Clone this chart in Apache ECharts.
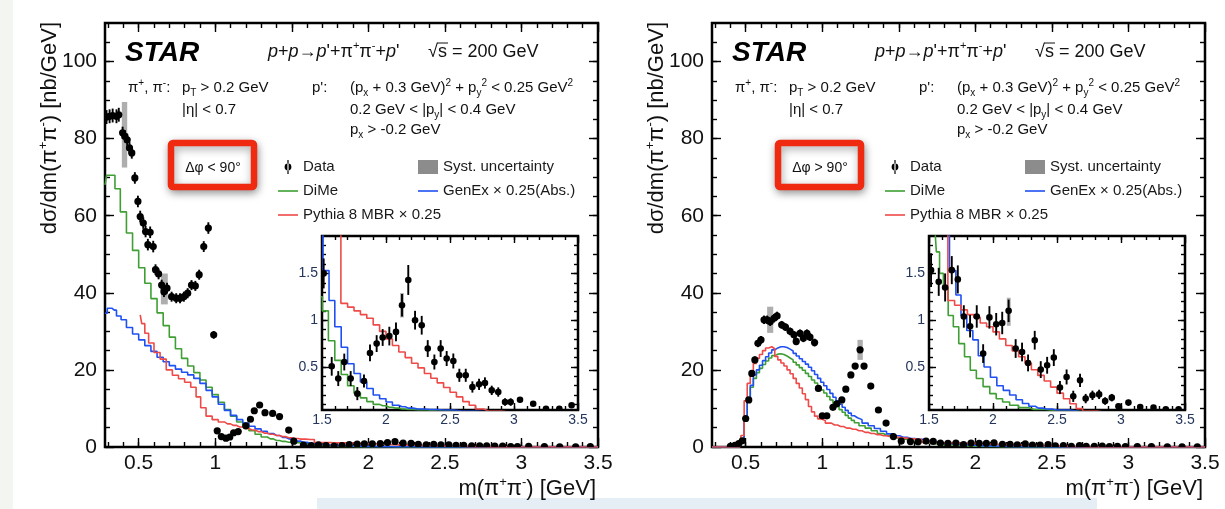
<!DOCTYPE html>
<html>
<head>
<meta charset="utf-8">
<script src="https://cdn.jsdelivr.net/npm/echarts@6/dist/echarts.min.js"></script>
<style>
html,body{margin:0;padding:0;background:#fff;}
#chart{width:1225px;height:509px;}
</style>
</head>
<body>
<div id="chart"></div>
<script>
// ---------------- DATA ----------------
// Δφ < 90° : data points [m, dσ/dm, stat. error]
const leftLow = [
[0.29,85.6,1.8],[0.31,85.8,1.8],[0.33,86.0,1.8],[0.355,85.8,1.8],[0.37,86.2,1.8],
[0.395,81.5,1.6],[0.41,80.6,1.6],[0.425,79.7,1.6],[0.44,77.6,1.5],[0.455,76.3,1.5],
[0.475,69.8,1.5],[0.495,63.7,1.5],[0.51,59.8,1.5],[0.53,58.1,1.5],[0.545,55.9,1.5],
[0.56,52.5,1.5],[0.575,55.7,1.5],[0.595,52.0,1.5],[0.61,46.0,1.4],[0.63,44.9,1.4],
[0.65,42.0,1.4],[0.665,40.3,1.4],[0.685,41.2,1.4],[0.715,39.0,1.3],[0.745,38.6,1.3],
[0.77,38.6,1.3],[0.795,39.0,1.3],[0.82,39.9,1.3],[0.845,42.0,1.3],[0.87,41.8,1.3],
[0.895,44.7,1.3],[0.925,52.0,1.4],[0.955,56.8,1.5],[0.99,29.1,1.0],[1.013,4.2,0.6],
[1.04,2.7,0.5],[1.07,2.3,0.5],[1.095,2.6,0.5],[1.12,3.7,0.5],[1.15,4.0,0.5],
[1.2,5.5,0.5],[1.23,7.2,0.5],[1.255,9.4,0.6],[1.29,10.9,0.6],[1.325,8.9,0.5],
[1.375,8.7,0.5],[1.42,7.9,0.5],[1.48,4.4,0.4]
];
const leftHigh = [
[1.513,1.5,0.16],[1.576,0.507,0.1],[1.627,0.376,0.08],[1.674,0.553,0.09],[1.724,0.376,0.08],
[1.776,0.215,0.07],[1.828,0.35,0.07],[1.875,0.65,0.09],[1.927,0.75,0.09],[1.974,0.815,0.09],
[2.026,0.83,0.1],[2.078,0.875,0.1],[2.125,1.16,0.12],[2.174,1.43,0.16],[2.227,1.0,0.1],
[2.279,0.946,0.1],[2.326,0.697,0.09],[2.378,0.553,0.08],[2.427,0.697,0.09],[2.474,0.59,0.08],
[2.526,0.564,0.08],[2.573,0.411,0.07],[2.623,0.411,0.07],[2.675,0.286,0.06],[2.727,0.314,0.06],
[2.773,0.329,0.06],[2.826,0.25,0.05],[2.877,0.232,0.05],[2.93,0.125,0.04],[2.974,0.125,0.04],
[3.047,0.15,0.03],[3.15,0.107,0.02],[3.25,0.054,0.02],[3.354,0.054,0.02],[3.45,0.09,0.02]
];
// Δφ > 90°
const rightLow = [
[0.40,0.2,0.3],[0.43,0.4,0.3],[0.455,0.9,0.3],[0.478,1.6,0.4],[0.50,7.4,0.6],
[0.52,12.2,0.7],[0.54,19.1,0.8],[0.56,22.6,0.9],[0.58,26.9,1.0],[0.60,27.8,1.0],
[0.62,33.0,1.1],[0.64,33.0,1.1],[0.66,32.5,1.1],[0.685,33.4,1.1],[0.705,34.0,1.1],
[0.735,31.7,1.0],[0.76,31.1,1.0],[0.79,30.0,1.0],[0.815,29.1,1.0],[0.83,27.4,1.0],
[0.855,29.5,1.0],[0.877,28.2,1.0],[0.90,29.5,1.0],[0.92,28.5,1.0],[0.95,27.1,1.0],
[0.975,15.2,0.8],[1.0,8.1,0.6],[1.03,8.1,0.6],[1.07,10.3,0.6],[1.095,11.2,0.6],
[1.128,12.2,0.6],[1.154,15.0,0.7],[1.187,18.7,0.7],[1.215,21.0,0.8],[1.247,25.2,0.8],
[1.273,21.0,0.8],[1.317,15.8,0.7],[1.367,9.6,0.6],[1.417,6.2,0.5],[1.465,2.7,0.4]
];
const rightHigh = [
[1.516,1.535,0.18],[1.576,1.41,0.15],[1.626,1.35,0.15],[1.678,1.535,0.15],[1.725,1.436,0.15],
[1.772,1.04,0.12],[1.821,0.936,0.12],[1.873,1.04,0.12],[1.923,0.643,0.1],[1.972,1.03,0.12],
[2.025,0.957,0.12],[2.072,0.97,0.12],[2.122,1.1,0.12],[2.177,0.697,0.1],[2.227,0.66,0.1],
[2.274,0.543,0.09],[2.326,0.786,0.1],[2.373,0.472,0.09],[2.423,0.518,0.09],[2.475,0.6,0.09],
[2.523,0.28,0.07],[2.575,0.393,0.08],[2.627,0.186,0.06],[2.68,0.357,0.07],[2.724,0.162,0.05],
[2.777,0.197,0.05],[2.829,0.207,0.05],[2.876,0.136,0.04],[2.928,0.172,0.04],[2.98,0.079,0.03],
[3.058,0.119,0.03],[3.15,0.072,0.02],[3.254,0.065,0.02],[3.35,0.047,0.02],[3.45,0.047,0.02]
];
// systematic uncertainty boxes [m0, m1, low, high]
const leftSyst = [[0.39,0.425,72.5,89.5],[0.645,0.69,37,45],[2.11,2.14,1.03,1.29]];
const rightSyst = [[0.64,0.68,29.6,36.4],[1.23,1.265,22.6,27.8],[2.108,2.138,0.94,1.24]];

// model histograms [m, dσ/dm]
const leftDiMe = [[0.28,68],[0.30,70.5],[0.33,70.5],[0.36,67],[0.40,61],[0.44,55.5],[0.48,51],[0.52,46.5],[0.56,42.5],[0.60,38.5],[0.64,34.8],[0.68,31.5],[0.72,28.5],[0.76,25.5],[0.80,23],[0.84,21],[0.88,19.3],[0.92,17.4],[0.96,15.5],[1.00,13.6],[1.04,11.6],[1.08,9.7],[1.12,8.0],[1.16,6.5],[1.20,5.2],[1.24,4.2],[1.28,3.3],[1.32,2.6],[1.36,2.1],[1.40,1.7],[1.44,1.45],[1.48,1.25],[1.525,1.1],[1.575,0.78],[1.625,0.57],[1.675,0.42],[1.725,0.30],[1.775,0.22],[1.825,0.17],[1.875,0.13],[1.925,0.10],[1.975,0.085],[2.025,0.07],[2.075,0.06],[2.125,0.05],[2.175,0.045],[2.25,0.04],[2.4,0.03],[2.6,0.02],[2.8,0.01],[3.0,0.005],[3.5,0]];
const leftGenEx = [[0.28,34.7],[0.31,36],[0.34,35.5],[0.37,34],[0.40,33],[0.44,31],[0.48,29.3],[0.52,27.8],[0.56,26.3],[0.60,24.8],[0.64,23.3],[0.68,22.1],[0.72,21.1],[0.76,20.2],[0.80,19.4],[0.84,18.7],[0.88,17.8],[0.92,16.5],[0.96,14.7],[1.00,13.0],[1.04,11.1],[1.08,9.5],[1.12,8.2],[1.16,7.1],[1.20,6.2],[1.24,5.4],[1.28,4.7],[1.32,4.1],[1.36,3.5],[1.40,3.0],[1.44,2.5],[1.48,2.1],[1.535,1.53],[1.575,1.21],[1.625,0.93],[1.675,0.71],[1.725,0.535],[1.775,0.43],[1.825,0.34],[1.875,0.27],[1.925,0.20],[1.975,0.16],[2.025,0.125],[2.075,0.09],[2.125,0.075],[2.175,0.06],[2.25,0.05],[2.35,0.045],[2.45,0.04],[2.6,0.03],[2.8,0.02],[3.0,0.01],[3.5,0]];
const leftPythia = [[0.51,34.3],[0.53,32],[0.55,29.5],[0.58,27],[0.62,24.5],[0.66,22.8],[0.70,20],[0.74,18.6],[0.78,17.7],[0.82,16.8],[0.86,15.5],[0.89,13],[0.92,10.2],[0.96,8],[1.00,7.1],[1.04,6.5],[1.08,6.0],[1.12,5.6],[1.16,5.2],[1.20,4.8],[1.24,4.4],[1.28,4.0],[1.32,3.6],[1.36,3.3],[1.40,3.0],[1.44,2.7],[1.48,2.4],[1.52,2.2],[1.56,2.05],[1.62,1.95],[1.675,1.18],[1.725,1.14],[1.775,1.10],[1.825,1.06],[1.875,1.02],[1.925,0.95],[1.975,0.88],[2.025,0.80],[2.075,0.73],[2.125,0.66],[2.175,0.60],[2.225,0.54],[2.275,0.49],[2.325,0.43],[2.375,0.38],[2.425,0.33],[2.475,0.28],[2.525,0.23],[2.575,0.18],[2.625,0.13],[2.675,0.09],[2.725,0.05],[2.8,0.03],[3.0,0.01],[3.5,0]];
const rightDiMe = [[0.28,0],[0.46,0],[0.48,1.5],[0.50,7],[0.52,12.3],[0.54,15.5],[0.56,17.8],[0.58,19.3],[0.60,20.4],[0.62,21.4],[0.64,22.3],[0.66,23.1],[0.68,23.7],[0.70,24.1],[0.72,24.2],[0.74,24],[0.76,23.6],[0.78,23.1],[0.80,22.6],[0.82,22],[0.84,21.3],[0.86,20.6],[0.88,19.9],[0.90,19.1],[0.92,18.3],[0.94,17.4],[0.96,16.6],[0.98,15.7],[1.00,14.8],[1.02,14],[1.04,13.1],[1.06,12.2],[1.08,11.3],[1.10,10.5],[1.12,9.7],[1.14,9],[1.16,8.2],[1.18,7.5],[1.20,6.9],[1.22,6.3],[1.26,5.5],[1.30,4.9],[1.34,4.2],[1.38,3.5],[1.42,3.0],[1.46,2.5],[1.50,2.2],[1.545,2.0],[1.57,1.73],[1.595,1.5],[1.63,1.34],[1.67,1.05],[1.71,0.93],[1.755,0.75],[1.80,0.61],[1.845,0.465],[1.895,0.376],[1.95,0.29],[2.0,0.215],[2.05,0.16],[2.10,0.125],[2.16,0.09],[2.24,0.065],[2.32,0.045],[2.5,0.03],[2.8,0.01],[3.5,0]];
const rightGenEx = [[0.28,0],[0.46,0],[0.48,1.5],[0.50,7],[0.52,12.5],[0.54,16],[0.56,18.7],[0.58,20],[0.60,21.2],[0.62,22.4],[0.64,23.4],[0.66,24.4],[0.68,25.2],[0.70,25.7],[0.72,26],[0.74,26],[0.76,25.8],[0.78,25.4],[0.80,24.9],[0.82,24.3],[0.84,23.6],[0.86,22.9],[0.88,22.2],[0.90,21.5],[0.92,20.7],[0.94,19.8],[0.96,18.8],[0.98,17.8],[1.00,16.8],[1.02,15.9],[1.04,14.9],[1.06,13.9],[1.08,12.9],[1.10,12],[1.12,11.1],[1.14,10.3],[1.16,9.5],[1.18,8.8],[1.20,8.1],[1.22,7.6],[1.24,7.1],[1.28,6.2],[1.32,5.5],[1.36,4.8],[1.40,4.1],[1.44,3.4],[1.48,2.9],[1.53,2.5],[1.58,2.2],[1.63,2.0],[1.69,1.53],[1.73,1.27],[1.77,1.05],[1.82,0.89],[1.865,0.79],[1.905,0.62],[1.955,0.50],[2.005,0.39],[2.055,0.30],[2.105,0.25],[2.155,0.20],[2.205,0.15],[2.255,0.11],[2.305,0.08],[2.355,0.06],[2.42,0.05],[2.5,0.04],[2.7,0.02],[3.0,0.01],[3.5,0]];
const rightPythia = [[0.28,0],[0.46,0],[0.48,3],[0.50,12],[0.52,16.5],[0.54,19],[0.56,21.7],[0.58,23],[0.60,24],[0.62,25],[0.64,25.7],[0.66,26],[0.68,25.5],[0.70,23.5],[0.72,22.6],[0.74,21.8],[0.76,21],[0.78,20],[0.80,19],[0.82,17.8],[0.84,16.5],[0.86,15.3],[0.88,13.8],[0.90,12.3],[0.92,10.5],[0.94,9.1],[0.96,8],[0.98,7.3],[1.00,6.9],[1.04,6.2],[1.08,5.7],[1.12,5.3],[1.16,4.9],[1.20,4.6],[1.24,4.2],[1.28,3.8],[1.32,3.5],[1.36,3.2],[1.40,2.9],[1.44,2.7],[1.48,2.5],[1.53,2.3],[1.58,2.1],[1.62,2.0],[1.675,1.21],[1.725,1.16],[1.775,1.11],[1.825,1.06],[1.875,1.03],[1.925,0.97],[1.975,0.93],[2.025,0.875],[2.075,0.80],[2.125,0.73],[2.175,0.67],[2.225,0.61],[2.275,0.54],[2.325,0.47],[2.375,0.41],[2.425,0.35],[2.475,0.285],[2.525,0.22],[2.575,0.16],[2.625,0.107],[2.675,0.055],[2.725,0.03],[2.9,0.01],[3.5,0]];

// tick labels
const mainXTicks = [0.5,1,1.5,2,2.5,3,3.5];
const mainYTicks = [0,20,40,60,80,100];
const insetXTicks = [1.5,2,2.5,3,3.5];
const insetYTicks = [0.5,1,1.5];
const mainXRange = [0.28,3.5], mainYRange = [0,110];
const insetXRange = [1.5,3.5], insetYRange = [0.04,1.9];

const names = {data:'Data', syst:'Syst. uncertainty', dime:'DiMe', genex:'GenEx × 0.25(Abs.)', pythia:'Pythia 8 MBR × 0.25'};
const colors = {dime:'#3f9f35', genex:'#1f50f2', pythia:'#ee4a48', syst:'#8c8c8c'};

// ---------------- CHART ----------------
const FONT = '"Liberation Sans", Arial, Helvetica, sans-serif';
const OFF = 607;

function steps(a, b, s) { const r = []; for (let k = Math.ceil(a / s - 1e-9); k * s <= b + 1e-9; k++) r.push(+(k * s).toFixed(3)); return r; }

const grids = [
  {left:105, top:23, width:493, height:424},
  {left:105+OFF, top:23, width:493, height:424},
  {left:322, top:236, width:256, height:174},
  {left:322+OFF, top:236, width:256, height:174}
].map(g => Object.assign(g, {show:true, borderColor:'#000', borderWidth:2.5, backgroundColor:'rgba(0,0,0,0)'}));

const xAxis = [], yAxis = [];
function addAxes(gi, xr, yr, xMaj, xMin, yMaj, yMin, lab) {
  const base = {gridIndex:gi, type:'value', splitLine:{show:false}, axisLine:{show:false, onZero:false}};
  const tk = (vals, len) => ({show:true, inside:true, length:len, customValues:vals, lineStyle:{color:'#000', width:1.4}});
  const lbl = (vals, margin) => ({show:true, customValues:vals, fontSize:lab.fs, color:lab.color, fontFamily:FONT, margin:margin, formatter:v => String(+v.toFixed(2))});
  xAxis.push(Object.assign({}, base, {min:xr[0], max:xr[1], position:'bottom', axisTick:tk(xMaj, lab.maj), axisLabel:lbl(xMaj, lab.xm)}));
  xAxis.push(Object.assign({}, base, {min:xr[0], max:xr[1], position:'bottom', axisTick:tk(xMin, lab.min), axisLabel:{show:false}}));
  xAxis.push(Object.assign({}, base, {min:xr[0], max:xr[1], position:'top', axisTick:tk(xMaj, lab.maj), axisLabel:{show:false}}));
  xAxis.push(Object.assign({}, base, {min:xr[0], max:xr[1], position:'top', axisTick:tk(xMin, lab.min), axisLabel:{show:false}}));
  yAxis.push(Object.assign({}, base, {min:yr[0], max:yr[1], position:'left', axisTick:tk(yMaj, lab.maj), axisLabel:lbl(yMaj, lab.ym)}));
  yAxis.push(Object.assign({}, base, {min:yr[0], max:yr[1], position:'left', axisTick:tk(yMin, lab.min), axisLabel:{show:false}}));
  yAxis.push(Object.assign({}, base, {min:yr[0], max:yr[1], position:'right', axisTick:tk(yMaj, lab.maj), axisLabel:{show:false}}));
  yAxis.push(Object.assign({}, base, {min:yr[0], max:yr[1], position:'right', axisTick:tk(yMin, lab.min), axisLabel:{show:false}}));
}
const mainLab = {fs:21, color:'#111', xm:6, ym:8, maj:9, min:5};
const insetLab = {fs:14, color:'#24365c', xm:3, ym:4, maj:7, min:4};
const mXMin = steps(0.3, 3.4, 0.1), mYMin = steps(5, 105, 5);
const iXMin = steps(1.6, 3.4, 0.1), iYMin = steps(0.1, 1.8, 0.1);
addAxes(0, mainXRange, mainYRange, mainXTicks, mXMin, mainYTicks, mYMin, mainLab);
addAxes(1, mainXRange, mainYRange, mainXTicks, mXMin, mainYTicks, mYMin, mainLab);
addAxes(2, insetXRange, insetYRange, insetXTicks, iXMin, insetYTicks, iYMin, insetLab);
addAxes(3, insetXRange, insetYRange, insetXTicks, iXMin, insetYTicks, iYMin, insetLab);

function dataSeries(data, gi, r) {
  return {name:names.data, type:'custom', xAxisIndex:gi*4, yAxisIndex:gi*4, data:data, clip:true, z:5, silent:true,
    itemStyle:{color:'#000'}, encode:{x:0, y:1},
    renderItem:function(params, api){
      const x = api.value(0), y = api.value(1), e = api.value(2);
      const p = api.coord([x, y]), lo = api.coord([x, y - e]), hi = api.coord([x, y + e]);
      return {type:'group', children:[
        {type:'line', shape:{x1:p[0], y1:lo[1], x2:p[0], y2:hi[1]}, style:{stroke:'#000', lineWidth:1.9}},
        {type:'circle', shape:{cx:p[0], cy:p[1], r:r}, style:{fill:'#000'}}
      ]};
    }};
}
function systSeries(data, gi) {
  return {name:names.syst, type:'custom', xAxisIndex:gi*4, yAxisIndex:gi*4, data:data, clip:true, z:3, silent:true,
    itemStyle:{color:colors.syst}, encode:{x:[0,1], y:[2,3]},
    renderItem:function(params, api){
      const a = api.coord([api.value(0), api.value(3)]), b = api.coord([api.value(1), api.value(2)]);
      return {type:'rect', shape:{x:a[0], y:a[1], width:b[0]-a[0], height:b[1]-a[1]}, style:{fill:'rgba(120,120,120,0.6)'}};
    }};
}
function lineSeries(key, data, gi) {
  return {name:names[key], type:'line', xAxisIndex:gi*4, yAxisIndex:gi*4, data:data, step:'middle', symbol:'none', showSymbol:false,
    color:colors[key], lineStyle:{color:colors[key], width:1.6}, clip:true, z:4, silent:true};
}
const series = [];
const panels = [
  {main:0, inset:2, low:leftLow, high:leftHigh, syst:leftSyst, dime:leftDiMe, genex:leftGenEx, pythia:leftPythia},
  {main:1, inset:3, low:rightLow, high:rightHigh, syst:rightSyst, dime:rightDiMe, genex:rightGenEx, pythia:rightPythia}
];
panels.forEach(p => {
  [p.main, p.inset].forEach(gi => {
    series.push(systSeries(p.syst, gi));
    series.push(lineSeries('dime', p.dime, gi));
    series.push(lineSeries('genex', p.genex, gi));
    series.push(lineSeries('pythia', p.pythia, gi));
  });
  series.push(dataSeries(p.low.concat(p.high), p.main, 3.6));
  series.push(dataSeries(p.high, p.inset, 3.3));
});

const DATA_ICON = 'path://M4.4,0H5.6V14H4.4Z M1.6,7A3.4,3.4 0 1 0 8.4,7A3.4,3.4 0 1 0 1.6,7Z';
const LINE_ICON = 'path://M0,0H20V1.6H0Z';
const legendBase = {orient:'vertical', top:159, padding:0, itemGap:8, itemWidth:20, itemHeight:14, selectedMode:false,
  textStyle:{fontSize:15, color:'#1a1a1a', fontFamily:FONT, lineHeight:16}};
const legend = [];
[0, OFF].forEach(ox => {
  legend.push(Object.assign({}, legendBase, {left:278+ox, data:[
    {name:names.data, icon:DATA_ICON, itemStyle:{color:'#000'}},
    {name:names.dime, icon:LINE_ICON, itemStyle:{color:colors.dime}},
    {name:names.pythia, icon:LINE_ICON, itemStyle:{color:colors.pythia}}]}));
  legend.push(Object.assign({}, legendBase, {left:418+ox, data:[
    {name:names.syst, icon:'rect', itemStyle:{color:colors.syst}},
    {name:names.genex, icon:LINE_ICON, itemStyle:{color:colors.genex}}]}));
});

const RICH = {
  s:{fontSize:10, lineHeight:10, verticalAlign:'top'},
  b:{fontSize:10, lineHeight:10, verticalAlign:'bottom'},
  i:{fontStyle:'italic'}
};
function txt(x, y, text, extra) {
  return {type:'text', x:x, y:y, z:20, style:Object.assign({text:text, fontFamily:FONT, fontSize:15, fill:'#111', align:'left', verticalAlign:'middle', lineHeight:20, rich:RICH}, extra || {})};
}
function panelGraphics(ox, dphi) {
  return [
    txt(125+ox, 53, 'STAR', {fontSize:28, fontWeight:'bold', fontStyle:'italic', fill:'#000', lineHeight:30}),
    txt(268+ox, 52, '{i|p}+{i|p}→{i|p}\'+π{s|+}π{s|-}+{i|p}\'', {fontSize:18, lineHeight:24, rich:{i:{fontStyle:'italic', fontSize:18}, s:{fontSize:11, lineHeight:11, verticalAlign:'top'}}}),
    txt(428+ox, 52, '√s = 200 GeV', {fontSize:18, lineHeight:24}),
    {type:'line', z:20, shape:{x1:437+ox, y1:43, x2:448+ox, y2:43}, style:{stroke:'#111', lineWidth:1}},
    txt(128+ox, 88, 'π{s|+}, π{s|-}:'),
    txt(182+ox, 88, 'p{b|T} > 0.2 GeV'),
    txt(182+ox, 110, '|η| < 0.7'),
    txt(312+ox, 88, '{i|p}\':'),
    txt(350+ox, 88, '(p{b|x} + 0.3 GeV){s|2} + p{b|y}{s|2} < 0.25 GeV{s|2}'),
    txt(350+ox, 110, '0.2 GeV < |p{b|y}| < 0.4 GeV'),
    txt(350+ox, 130, 'p{b|x} > -0.2 GeV'),
    {type:'rect', z:18, shape:{x:171+ox, y:143, width:83, height:44, r:2},
      style:{fill:'#fff', stroke:'#ef2a10', lineWidth:6.5, shadowBlur:8, shadowColor:'rgba(0,0,0,0.35)', shadowOffsetX:1, shadowOffsetY:3}},
    txt(213+ox, 168, dphi, {align:'center', fontSize:14}),
    {type:'text', x:50+ox, y:22, rotation:Math.PI/2, z:20, style:{text:'dσ/dm(π{s|+}π{s|-}) [nb/GeV]', fontFamily:FONT, fontSize:22, fill:'#111',
      align:'right', verticalAlign:'middle', lineHeight:26, rich:{s:{fontSize:13, lineHeight:13, verticalAlign:'top'}}}},
    {type:'text', x:596+ox, y:489, z:20, style:{text:'m(π{s|+}π{s|-}) [GeV]', fontFamily:FONT, fontSize:22, fill:'#111',
      align:'right', verticalAlign:'middle', lineHeight:26, rich:{s:{fontSize:13, lineHeight:13, verticalAlign:'top'}}}}
  ];
}
const graphic = [
  {type:'rect', z:-10, shape:{x:0, y:0, width:13, height:509}, style:{fill:'#f3f5f1'}},
  {type:'rect', z:-10, shape:{x:317, y:498, width:780, height:11}, style:{fill:'#e5eef5'}}
].concat(panelGraphics(0, 'Δφ < 90°'), panelGraphics(OFF, 'Δφ > 90°'));

const chart = echarts.init(document.getElementById('chart'), null, {renderer:'canvas'});
chart.setOption({
  animation:false,
  backgroundColor:'#ffffff',
  textStyle:{fontFamily:FONT},
  grid:grids, xAxis:xAxis, yAxis:yAxis, legend:legend, series:series,
  graphic:{elements:graphic}
});
</script>
</body>
</html>
